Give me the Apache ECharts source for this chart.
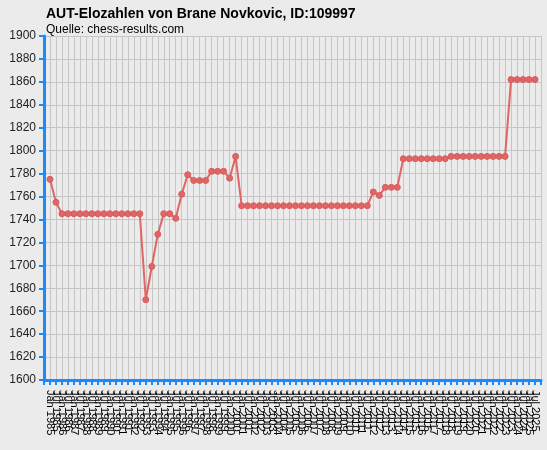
<!DOCTYPE html>
<html>
<head>
<meta charset="utf-8">
<script src="https://cdn.jsdelivr.net/npm/echarts@6/dist/echarts.min.js"></script>
<style>
html,body{margin:0;padding:0;background:#ebebeb;}
#c{width:547px;height:450px;}
</style>
</head>
<body>
<div id="c"></div>
<script>
var titleText = "AUT-Elozahlen von Brane Novkovic, ID:109997";
var subText = "Quelle: chess-results.com";

var periods = [
"Jan 1985","Jul 1985","Jan 1986","Jul 1986","Jan 1987","Jul 1987","Jan 1988","Jul 1988",
"Jan 1989","Jul 1989","Jan 1990","Jul 1990","Jan 1991","Jul 1991","Jan 1992","Jul 1992",
"Jan 1993","Jul 1993","Jan 1994","Jul 1994","Jan 1995","Jul 1995","Jan 1996","Jul 1996",
"Jan 1997","Jul 1997","Jan 1998","Jul 1998","Jan 1999","Jul 1999","Jan 2000","Jul 2000",
"Jan 2001","Jul 2001","Jan 2002","Jul 2002","Jan 2003","Jul 2003","Jan 2004","Jul 2004",
"Jan 2005","Jul 2005","Jan 2006","Jul 2006","Jan 2007","Jul 2007","Jan 2008","Jul 2008",
"Jan 2009","Jul 2009","Jan 2010","Jul 2010","Jan 2011","Jul 2011","Jan 2012","Jul 2012",
"Jan 2013","Jul 2013","Jan 2014","Jul 2014","Jan 2015","Jul 2015","Jan 2016","Jul 2016",
"Jan 2017","Jul 2017","Jan 2018","Jul 2018","Jan 2019","Jul 2019","Jan 2020","Jul 2020",
"Jan 2021","Jul 2021","Jan 2022","Jul 2022","Jan 2023","Jul 2023","Jan 2024","Jul 2024",
"Jan 2025","Jul 2025"
];

var elo = [
1775,1755,
1745,1745,1745,1745,1745,1745,1745,1745,1745,1745,1745,1745,1745,1745,
1670,1699,1727,1745,1745,1741,1762,1779,
1774,1774,1774,1782,1782,1782,1776,1795,
1752,1752,1752,1752,1752,1752,1752,1752,1752,1752,1752,
1752,1752,1752,1752,1752,1752,1752,1752,1752,1752,1752,
1764,1761,1768,1768,1768,
1793,1793,1793,1793,1793,1793,1793,1793,
1795,1795,1795,1795,1795,1795,1795,1795,1795,1795,
1862,1862,1862,1862,1862
];

var yTicks = {min:1600, max:1900, step:20};

var points = elo.map(function(v,i){return [i+1, v];});

var chart = echarts.init(document.getElementById('c'), null, {renderer:'canvas'});
var font = "Liberation Sans, Arial, sans-serif";
chart.setOption({
  backgroundColor:'#ebebeb',
  animation:false,
  textStyle:{fontFamily:font},
  title:{
    text:titleText,
    subtext:subText,
    left:41, top:2,
    itemGap:3,
    textStyle:{fontSize:14, fontWeight:'bold', color:'#000', fontFamily:font},
    subtextStyle:{fontSize:12, color:'#000', fontFamily:font}
  },
  grid:{left:44, right:6, top:36, bottom:70, containLabel:false},
  xAxis:{
    type:'value',
    min:0, max:periods.length+1, interval:1,
    axisLine:{show:true, lineStyle:{color:'#1e88ff', width:3}},
    axisTick:{show:true, length:5, lineStyle:{color:'#1e88ff', width:2}},
    splitLine:{show:true, lineStyle:{color:'#c6c6c6', width:1}},
    axisLabel:{
      rotate:-90, margin:10, fontSize:11, color:'#000', fontFamily:font,
      showMinLabel:true, showMaxLabel:true,
      formatter:function(v){ var k=Math.round(v); return (k>=1 && k<=periods.length)? periods[k-1] : ''; }
    }
  },
  yAxis:{
    type:'value',
    min:yTicks.min, max:yTicks.max, interval:yTicks.step,
    axisLine:{show:true, lineStyle:{color:'#1e88ff', width:3}},
    axisTick:{show:true, length:5, lineStyle:{color:'#1e88ff', width:2}},
    splitLine:{show:true, lineStyle:{color:'#c6c6c6', width:1}},
    axisLabel:{margin:8, fontSize:12, color:'#222', fontFamily:font,
      formatter:function(v){ return String(v); }}
  },
  series:[{
    type:'line',
    data:points,
    symbol:'circle',
    symbolSize:6,
    lineStyle:{color:'#e06565', width:2},
    itemStyle:{color:'#e06565', borderColor:'#d85c5c', borderWidth:1}
  }]
});
</script>
</body>
</html>
